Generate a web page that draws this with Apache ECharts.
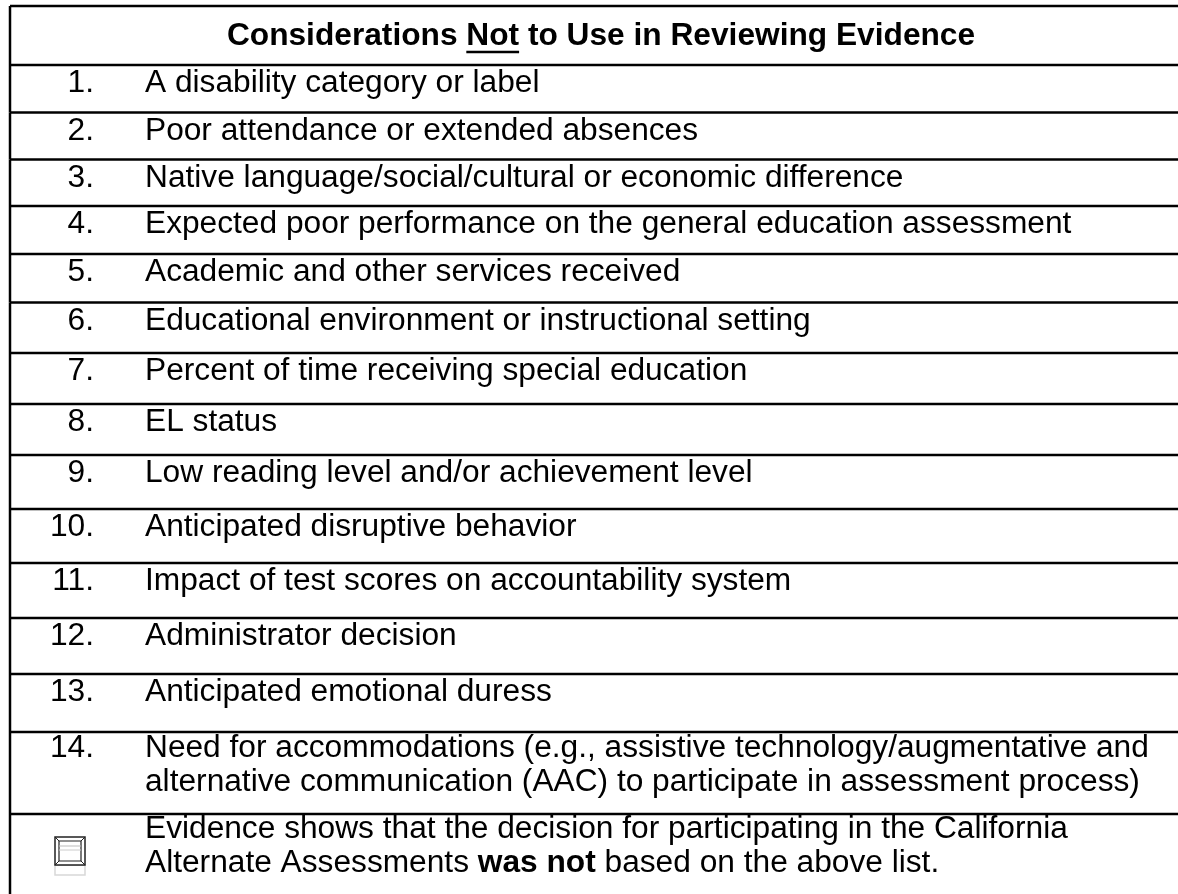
<!DOCTYPE html>
<html>
<head>
<meta charset="utf-8">
<script src="https://cdn.jsdelivr.net/npm/echarts@6/dist/echarts.min.js"></script>
<style>
html, body { margin: 0; padding: 0; background: #fff; }
#main { width: 1178px; height: 894px; }
</style>
</head>
<body>
<div id="main"></div>
<script>
// table content
var headerText = 'Considerations Not to Use in Reviewing Evidence';
var headerUnderlined = 'Not';
var itemNumbers = ['1.', '2.', '3.', '4.', '5.', '6.', '7.', '8.', '9.', '10.', '11.', '12.', '13.', '14.'];
var itemTexts = [
    'A disability category or label',
    'Poor attendance or extended absences',
    'Native language/social/cultural or economic difference',
    'Expected poor performance on the general education assessment',
    'Academic and other services received',
    'Educational environment or instructional setting',
    'Percent of time receiving special education',
    'EL status',
    'Low reading level and/or achievement level',
    'Anticipated disruptive behavior',
    'Impact of test scores on accountability system',
    'Administrator decision',
    'Anticipated emotional duress',
    'Need for accommodations (e.g., assistive technology/augmentative and\nalternative communication (AAC) to participate in assessment process)'
];
var closingLines = [
    'Evidence shows that the decision for participating in the California',
    'Alternate Assessments {b|was not} based on the above list.'
];

// layout (row heights follow the source page)
var rowHeights = [59, 47.5, 47, 46.5, 48, 48.5, 50.5, 51, 51, 54, 54, 55, 56, 58, 82, 84];
var tableTop = 6, tableLeft = 10, tableRight = 1192;
var numRight = 94, textLeft = 145;
var fontFamily = '"Liberation Sans", Arial, Helvetica, sans-serif';
var fontSize = 31, stretch = 1.022, lineGap = 34;

var rowTops = [];
var acc = tableTop;
rowHeights.forEach(function (h) { rowTops.push(acc); acc += h; });

var measureCtx = document.createElement('canvas').getContext('2d');
function textWidth(str, bold) {
    measureCtx.font = (bold ? 'bold ' : '') + fontSize + 'px ' + fontFamily;
    return measureCtx.measureText(str).width * stretch;
}

function textEl(x, y, str, align, bold, extra) {
    var style = {
        text: str,
        fontFamily: fontFamily,
        fontSize: fontSize,
        fontWeight: bold ? 'bold' : 'normal',
        fill: '#000',
        align: align,
        verticalAlign: 'top',
        lineHeight: lineGap
    };
    if (extra) { for (var k in extra) style[k] = extra[k]; }
    return { type: 'text', x: x, y: y, scaleX: stretch, style: style };
}

var myChart = echarts.init(document.getElementById('main'));

var rowData = rowHeights.map(function (h, i) { return [i]; });

option = {
    animation: false,
    grid: { left: 0, right: 0, top: 0, bottom: 0 },
    xAxis: { type: 'value', min: 0, max: 1178, show: false },
    yAxis: { type: 'value', min: 0, max: 894, inverse: true, show: false },
    series: [{
        type: 'custom',
        clip: false,
        data: rowData,
        renderItem: function (params, api) {
            var i = params.dataIndex;
            var top = rowTops[i], bottom = top + rowHeights[i];
            var tl = api.coord([tableLeft, top]);
            var br = api.coord([tableRight, bottom]);
            var lineStyle = { stroke: '#000', lineWidth: 2.5 };
            var children = [
                { type: 'line', shape: { x1: tl[0], y1: tl[1], x2: br[0], y2: tl[1] }, style: lineStyle },
                { type: 'line', shape: { x1: tl[0], y1: tl[1], x2: tl[0], y2: br[1] }, style: lineStyle }
            ];
            var nx = api.coord([numRight, 0])[0];
            var tx = api.coord([textLeft, 0])[0];
            if (i === 0) {
                var cx = (tl[0] + br[0]) / 2;
                var full = textWidth(headerText, true);
                var pre = headerText.slice(0, headerText.indexOf(headerUnderlined));
                var x0 = cx - full / 2;
                var ux = x0 + textWidth(pre, true);
                var uw = textWidth(headerUnderlined, true);
                var ty = api.coord([0, top + 30])[1] - lineGap / 2;
                children.push(textEl(x0, ty, headerText, 'left', true));
                var uy = api.coord([0, top + 46])[1];
                children.push({ type: 'line', shape: { x1: ux, y1: uy, x2: ux + uw, y2: uy }, style: { stroke: '#000', lineWidth: 2.5 } });
            } else if (i <= itemTexts.length) {
                var off = itemTexts[i - 1].indexOf('\n') >= 0 ? 16.5 : 18.5;
                var y = api.coord([0, top + off])[1] - lineGap / 2;
                children.push(textEl(nx, y, itemNumbers[i - 1], 'right', false));
                children.push(textEl(tx, y, itemTexts[i - 1], 'left', false));
            } else {
                var y2 = api.coord([0, top + 15.5])[1] - lineGap / 2;
                children.push(textEl(tx, y2, closingLines.join('\n'), 'left', false, {
                    rich: { b: { fontWeight: 'bold', fontFamily: fontFamily, fontSize: fontSize, lineHeight: lineGap } }
                }));
                // checkbox glyph
                var b0 = api.coord([55, top + 23]);
                var b1 = api.coord([85, top + 51]);
                var inset = 4;
                children.push({ type: 'rect', shape: { x: b0[0], y: b1[1], width: b1[0] - b0[0], height: 10 },
                    style: { fill: 'none', stroke: '#d8d8d8', lineWidth: 1.5 } });
                children.push({ type: 'rect', shape: { x: b0[0], y: b0[1], width: b1[0] - b0[0], height: b1[1] - b0[1] },
                    style: { fill: '#fff', stroke: '#222', lineWidth: 1.5 } });
                children.push({ type: 'rect', shape: { x: b0[0] + inset, y: b0[1] + inset, width: b1[0] - b0[0] - 2 * inset, height: b1[1] - b0[1] - 2 * inset },
                    style: { fill: 'none', stroke: '#222', lineWidth: 1.2 } });
                [[0, 0, 1, 1], [1, 0, -1, 1], [0, 1, 1, -1], [1, 1, -1, -1]].forEach(function (c) {
                    var px = c[0] ? b1[0] : b0[0], py = c[1] ? b1[1] : b0[1];
                    children.push({ type: 'line', shape: { x1: px, y1: py, x2: px + c[2] * inset, y2: py + c[3] * inset },
                        style: { stroke: '#222', lineWidth: 1 } });
                });
                children.push({ type: 'line', shape: { x1: b0[0] + inset, y1: b0[1] + 9, x2: b1[0] - inset, y2: b0[1] + 9 },
                    style: { stroke: '#bbb', lineWidth: 1 } });
                children.push({ type: 'line', shape: { x1: b0[0] + inset, y1: b0[1] + 13, x2: b1[0] - inset, y2: b0[1] + 13 },
                    style: { stroke: '#ccc', lineWidth: 1 } });
            }
            return { type: 'group', children: children };
        }
    }]
};

myChart.setOption(option);
</script>
</body>
</html>
